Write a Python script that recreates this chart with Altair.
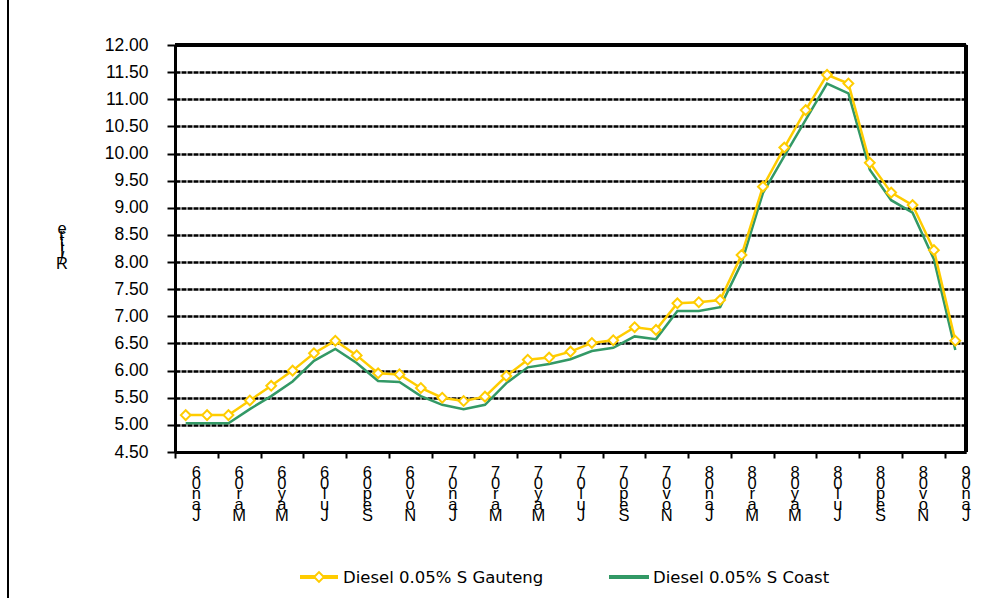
import altair as alt
import pandas as pd

# Monthly diesel prices, Jan 2006 - Jan 2009 (R/litre)
months = [
    "Jan06", "Feb06", "Mar06", "Apr06", "May06", "Jun06", "Jul06", "Aug06", "Sep06", "Oct06", "Nov06", "Dec06",
    "Jan07", "Feb07", "Mar07", "Apr07", "May07", "Jun07", "Jul07", "Aug07", "Sep07", "Oct07", "Nov07", "Dec07",
    "Jan08", "Feb08", "Mar08", "Apr08", "May08", "Jun08", "Jul08", "Aug08", "Sep08", "Oct08", "Nov08", "Dec08",
    "Jan09",
]
gauteng = [
    5.18, 5.18, 5.18, 5.45, 5.72, 6.00, 6.32, 6.55, 6.28, 5.95, 5.93, 5.68,
    5.50, 5.44, 5.52, 5.90, 6.20, 6.24, 6.35, 6.51, 6.56, 6.80, 6.75, 7.24,
    7.26, 7.30, 8.13, 9.39, 10.11, 10.80, 11.45, 11.29, 9.83, 9.28, 9.05, 8.22,
    6.55,
]
coast = [
    5.03, 5.03, 5.03, 5.29, 5.53, 5.80, 6.18, 6.40, 6.14, 5.81, 5.79, 5.53,
    5.37, 5.29, 5.37, 5.77, 6.06, 6.12, 6.21, 6.36, 6.42, 6.63, 6.58, 7.10,
    7.10, 7.17, 7.98, 9.27, 9.95, 10.62, 11.29, 11.11, 9.70, 9.14, 8.91, 8.05,
    6.38,
]
series_names = ["Diesel 0.05% S Gauteng", "Diesel 0.05% S Coast"]
y_title = "R/litre"

W, H = 791, 407
FONT = "Liberation Sans"
LEG_FONT = "DejaVu Sans"
YELLOW = "#FFCC00"
GREEN = "#339966"

df = pd.DataFrame({"idx": list(range(len(months))), "month": months,
                   "gauteng": gauteng, "coast": coast})

# every second month is labelled, letters stacked top-down in reverse
lab = df[df["idx"] % 2 == 0].copy()
lab["pos"] = lab["idx"] + 0.5
lab["stack"] = lab["month"].apply(lambda s: "\n".join(reversed(s)))

xs = alt.Scale(domain=[-0.5, len(months) - 0.5], nice=False, zero=False)
ys = alt.Scale(domain=[4.5, 12], nice=False, zero=False)

y_ticks = [4.5 + 0.5 * k for k in range(16)]
x_ticks = [-0.5 + 2 * k for k in range(19)]

X_AXIS = alt.Axis(values=x_ticks, labels=False, title=None, grid=False,
                  tickSize=6, tickWidth=2, tickColor="black",
                  domainWidth=3, domainColor="black")
Y_AXIS = alt.Axis(values=y_ticks, format=".2f", title=None,
                  labelFont=FONT, labelFontSize=17.5, labelColor="black",
                  labelPadding=19, tickSize=8, tickWidth=2, tickColor="black",
                  domainWidth=3, domainColor="black",
                  grid=True, gridColor="black", gridWidth=2.5, gridDash=[5, 1])


def xq(field):
    return alt.X(f"{field}:Q", scale=xs, axis=X_AXIS, title=None)


def yq(field):
    return alt.Y(f"{field}:Q", scale=ys, axis=Y_AXIS, title=None)


top_rule = alt.Chart(df).mark_rule(color="black", strokeWidth=3).encode(
    y=alt.datum(12, scale=ys, axis=Y_AXIS), x=alt.value(0), x2=alt.value(W))
right_rule = alt.Chart(df).mark_rule(color="black", strokeWidth=3).encode(
    x=alt.datum(len(months) - 0.5, scale=xs, axis=X_AXIS), y=alt.value(0), y2=alt.value(H))
outer_left = alt.Chart(df).mark_rule(color="black", strokeWidth=2).encode(
    x=alt.value(-167), y=alt.value(-45), y2=alt.value(H + 146))

coast_line = alt.Chart(df).mark_line(color=GREEN, strokeWidth=2.5).encode(
    x=xq("idx"), y=yq("coast"))
gauteng_line = alt.Chart(df).mark_line(color=YELLOW, strokeWidth=2.5).encode(
    x=xq("idx"), y=yq("gauteng"))
gauteng_pts = alt.Chart(df).mark_point(
    shape="diamond", size=95, filled=True, fill="white", stroke=YELLOW,
    strokeWidth=2, opacity=1).encode(x=xq("idx"), y=yq("gauteng"))

x_labels = alt.Chart(lab).mark_text(
    font=FONT, fontSize=16.5, color="black", baseline="top", align="center",
    lineBreak="\n", lineHeight=10.7).encode(
    x=xq("pos"), y=alt.value(H + 13), text="stack:N")

ytitle_df = pd.DataFrame({"t": ["\n".join(reversed(y_title))]})
y_label = alt.Chart(ytitle_df).mark_text(
    font=FONT, fontSize=16.5, color="black", baseline="top", align="center",
    lineBreak="\n", lineHeight=5.8).encode(
    x=alt.value(-113), y=alt.value(176), text="t:N")

# legend drawn below the plot
leg_y = H + 125
leg_df = pd.DataFrame({"t": series_names})
leg_g_line = alt.Chart(df).mark_rule(color=YELLOW, strokeWidth=2.5).encode(
    x=alt.value(125), x2=alt.value(163), y=alt.value(leg_y))
leg_g_pt = alt.Chart(leg_df.head(1)).mark_point(
    shape="diamond", size=95, filled=True, fill="white", stroke=YELLOW,
    strokeWidth=2, opacity=1).encode(x=alt.value(144), y=alt.value(leg_y))
leg_g_txt = alt.Chart(leg_df.iloc[[0]]).mark_text(
    font=LEG_FONT, fontSize=16.5, color="black", align="left", baseline="middle").encode(
    x=alt.value(168), y=alt.value(leg_y + 1), text="t:N")
leg_c_line = alt.Chart(df).mark_rule(color=GREEN, strokeWidth=2.5).encode(
    x=alt.value(434), x2=alt.value(474), y=alt.value(leg_y))
leg_c_txt = alt.Chart(leg_df.iloc[[1]]).mark_text(
    font=LEG_FONT, fontSize=16.5, color="black", align="left", baseline="middle").encode(
    x=alt.value(478), y=alt.value(leg_y + 1), text="t:N")

chart = alt.layer(
    coast_line, gauteng_line, gauteng_pts,
    top_rule, right_rule, outer_left,
    x_labels, y_label,
    leg_g_line, leg_g_pt, leg_g_txt, leg_c_line, leg_c_txt,
).properties(
    width=W, height=H,
    autosize=alt.AutoSizeParams(type="none"),
    padding={"left": 175, "top": 45, "right": 39, "bottom": 146},
    background="white",
).configure_view(strokeWidth=0)

chart.save("out.html", embed_options={"renderer": "svg", "actions": False})
